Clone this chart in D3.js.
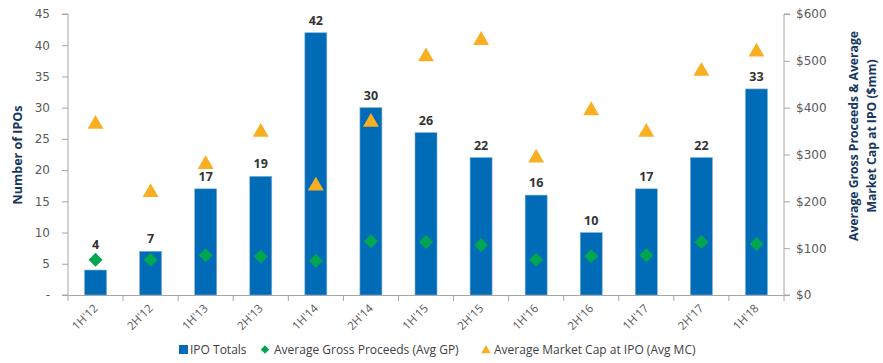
<!DOCTYPE html>
<html><head><meta charset="utf-8">
<script src="https://cdn.jsdelivr.net/npm/d3@7"></script>
<style>body{margin:0;background:#fff}svg{display:block}</style>
</head><body>
<script>
const categories = ["1H'12","2H'12","1H'13","2H'13","1H'14","2H'14","1H'15","2H'15","1H'16","2H'16","1H'17","2H'17","1H'18"];
const ipoTotals = [4,7,17,19,42,30,26,22,16,10,17,22,33];
const avgGP = [75,75,85,82,73,115,113,107,75,83,85,113,109];
const avgMC = [367,221,281,350,235,371,511,546,295,396,350,480,521];
const leftTicks = [0,5,10,15,20,25,30,35,40,45];
const rightTicks = [0,100,200,300,400,500,600];
const seriesNames = ["IPO Totals","Average Gross Proceeds (Avg GP)","Average Market Cap at IPO (Avg MC)"];

const W=883,H=363, m={l:68,r:99,t:14,b:68};
const svg=d3.select("body").append("svg").attr("width",W).attr("height",H);
const xb=d3.scaleBand().domain(categories).range([m.l,W-m.r]);
const yL=d3.scaleLinear().domain([0,45]).range([H-m.b,m.t]);
const yR=d3.scaleLinear().domain([0,600]).range([H-m.b,m.t]);
const axisCol="#A6A6A6", tickCol="#595959";
const tickFont="Verdana, 'DejaVu Sans', sans-serif";
const cx=i=>xb(categories[i])+xb.bandwidth()/2;

// bars
svg.append("g").selectAll("rect").data(ipoTotals).join("rect")
 .attr("x",(d,i)=>cx(i)-11)
 .attr("width",22)
 .attr("y",d=>yL(d)).attr("height",d=>yL(0)-yL(d))
 .attr("fill","#006CB7").attr("stroke","#7FB0D8").attr("stroke-width",0.6);
svg.append("g").selectAll("text").data(ipoTotals).join("text")
 .attr("x",(d,i)=>cx(i))
 .attr("y",(d,i)=>Math.min(yL(d)-8, yR(avgGP[i])-11)).attr("text-anchor","middle")
 .attr("font-family","'Open Sans', sans-serif").attr("font-weight","bold").attr("font-size",12.5)
 .attr("fill","#333").text(d=>d);

// diamonds
svg.append("g").selectAll("path").data(avgGP).join("path")
 .attr("d",d3.symbol(d3.symbolSquare,98))
 .attr("transform",(d,i)=>`translate(${cx(i)},${yR(d)}) rotate(45)`)
 .attr("fill","#00A650");
// triangles
svg.append("g").selectAll("path").data(avgMC).join("path")
 .attr("d",d3.symbol(d3.symbolTriangle,110))
 .attr("transform",(d,i)=>`translate(${cx(i)},${yR(d)+1})`)
 .attr("fill","#F8AF22");

// axes
const gl=svg.append("g").attr("transform",`translate(${m.l},0)`)
 .call(d3.axisLeft(yL).tickValues(leftTicks).tickSize(6).tickPadding(12).tickFormat(d=>d===0?"-":d));
const gr=svg.append("g").attr("transform",`translate(${W-m.r},0)`)
 .call(d3.axisRight(yR).tickValues(rightTicks).tickSize(6).tickPadding(6).tickFormat(d=>"$"+d));
const gb=svg.append("g").attr("transform",`translate(0,${H-m.b})`)
 .call(d3.axisBottom(xb).tickSize(0).tickFormat(""));
svg.append("g").selectAll("line").data(d3.range(categories.length+1)).join("line")
 .attr("x1",i=>m.l+i*xb.step()).attr("x2",i=>m.l+i*xb.step())
 .attr("y1",H-m.b).attr("y2",H-m.b+6).attr("stroke",axisCol);
[gl,gr,gb].forEach(g=>{
 g.selectAll(".domain").attr("stroke",axisCol);
 g.selectAll(".tick line").attr("stroke",axisCol);
 g.selectAll("text").attr("fill",tickCol).attr("font-family",tickFont).attr("font-size",12);
});
gr.select(".domain").attr("d",`M6,${m.t}H0V${H-m.b}H6`);
gl.select(".domain").attr("d",`M-6,${m.t}H0V${H-m.b}H-6`);

// x labels
svg.append("g").selectAll("text").data(categories).join("text")
 .attr("transform",d=>`translate(${xb(d)+xb.bandwidth()/2+3},${H-m.b+14}) rotate(-45)`)
 .attr("text-anchor","end").attr("font-family","'Open Sans', sans-serif").attr("font-size",11.5)
 .attr("fill",tickCol).text(d=>d);

// axis titles
const titleCol="#17375E";
svg.append("text").attr("transform",`translate(22,155) rotate(-90)`)
 .attr("text-anchor","middle").attr("font-family","'Open Sans', sans-serif").attr("font-weight","bold")
 .attr("font-size",12.5).attr("fill",titleCol).text("Number of IPOs");
const rt=svg.append("text").attr("transform",`translate(858,136) rotate(-90)`)
 .attr("text-anchor","middle").attr("font-family","'Open Sans', sans-serif").attr("font-weight","bold")
 .attr("font-size",12.2).attr("fill",titleCol);
rt.append("tspan").attr("x",0).attr("dy",0).text("Average Gross Proceeds & Average");
rt.append("tspan").attr("x",0).attr("dy",18).text("Market Cap at IPO ($mm)");

// legend
const lg=svg.append("g").attr("font-family","'Open Sans', sans-serif").attr("font-size",12).attr("fill","#404040");
lg.append("rect").attr("x",179).attr("y",345).attr("width",9).attr("height",9).attr("fill","#006CB7");
lg.append("text").attr("x",190).attr("y",354).text(seriesNames[0]);
lg.append("path").attr("d",d3.symbol(d3.symbolSquare,36)).attr("transform","translate(265,349.5) rotate(45)").attr("fill","#00A650");
lg.append("text").attr("x",274).attr("y",354).text(seriesNames[1]);
lg.append("path").attr("d",d3.symbol(d3.symbolTriangle,40)).attr("transform","translate(486,350.5)").attr("fill","#F8AF22");
lg.append("text").attr("x",494).attr("y",354).text(seriesNames[2]);
</script>
</body></html>
